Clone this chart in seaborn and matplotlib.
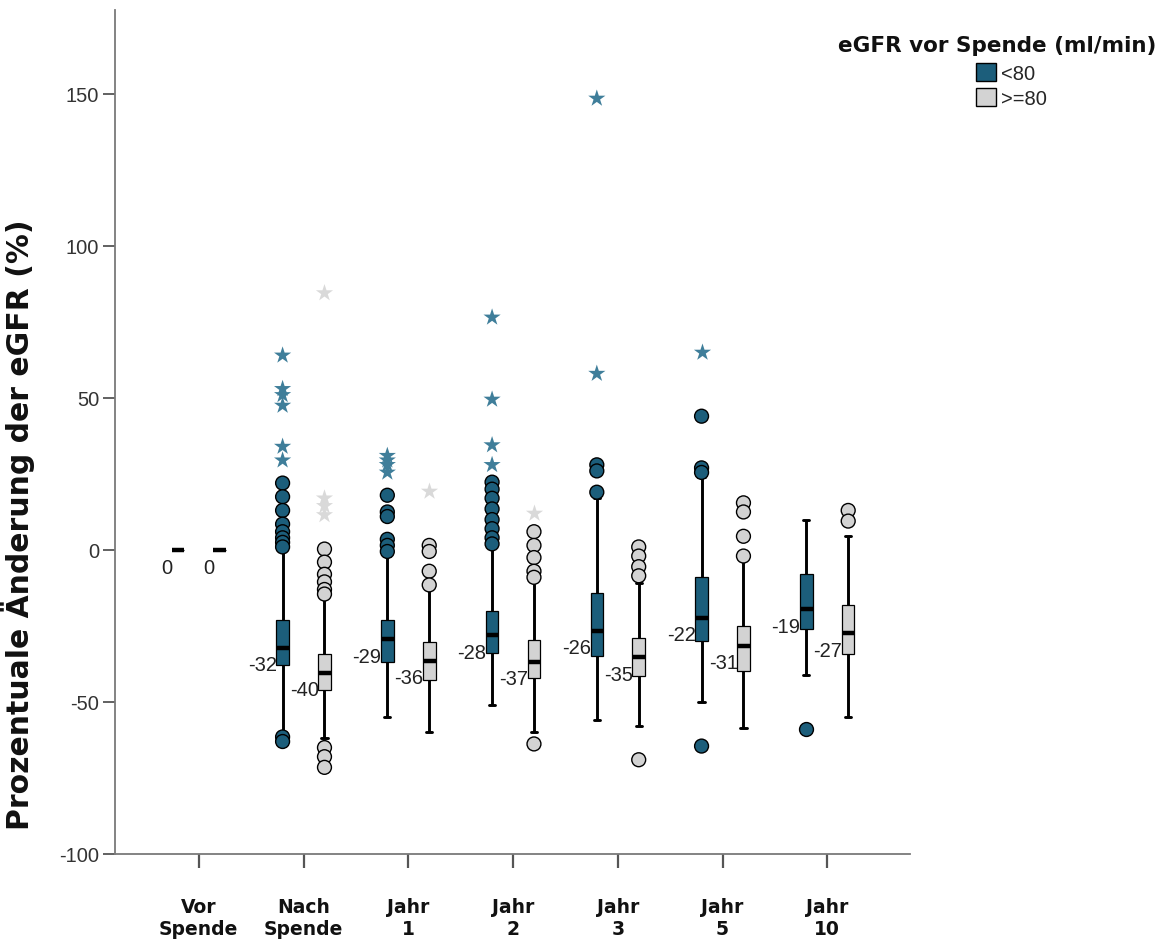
import numpy as np
import pandas as pd
import matplotlib
matplotlib.use("Agg")
import matplotlib.pyplot as plt
from matplotlib.patches import Patch
import seaborn as sns

# ---------------- data ----------------
categories = ["Vor\nSpende", "Nach\nSpende", "Jahr\n1", "Jahr\n2", "Jahr\n3", "Jahr\n5", "Jahr\n10"]
groups = ["<80", ">=80"]

# eGFR < 80 : five-number summaries
lt80_whislo = [0, -60, -55, -51, -56, -50, -41]
lt80_q1     = [0, -38, -37, -34, -35, -30, -26]
lt80_median = [0, -32.2, -29.3, -28.0, -26.5, -22.3, -19.4]
lt80_q3     = [0, -23, -23, -20, -14, -9, -8]
lt80_whishi = [0, 0, -2, 1, 17, 24, 10]

# eGFR >= 80 : five-number summaries
ge80_whislo = [0, -62, -60, -60, -58, -58.6, -55]
ge80_q1     = [0, -46, -42.7, -42.2, -41.6, -39.7, -34.2]
ge80_median = [0, -40.4, -36.4, -36.8, -35.3, -31.5, -27.3]
ge80_q3     = [0, -34.2, -30.4, -29.5, -29.1, -25, -18]
ge80_whishi = [0, -15, -13, -10, -11, -3, 4.5]

# outliers (circles) and extreme values (stars)
lt80_circles = [[], [22, 17.5, 13, 8.5, 6, 4, 2.5, 1, -61.5, -63],
                [18, 12.5, 11, 3.5, 1.5, -0.5],
                [22.3, 20, 17, 13.5, 10, 7, 4, 2],
                [28, 26, 19], [44, 27, 25.5, -64.5], [-59]]
lt80_stars = [[], [64, 53, 51, 47.5, 34, 29.5], [31, 29.5, 28, 25.5],
              [76.5, 49.5, 34.5, 28], [148.5, 58], [65], []]
ge80_circles = [[], [0.3, -4, -8, -10.5, -13, -14.5, -65, -68, -71.5],
                [1.5, -0.5, -7, -11.5],
                [6, 1.5, -2.5, -7, -9, -63.8],
                [1, -2, -5.5, -8.5, -69], [15.5, 12.5, 4.5, -2], [13, 9.5]]
ge80_stars = [[], [84.5, 17, 14.5, 11.5], [19.5], [12], [], [], []]

# median labels as printed
lt80_labels = ["0", "-32", "-29", "-28", "-26", "-22", "-19"]
ge80_labels = ["0", "-40", "-36", "-37", "-35", "-31", "-27"]

y_ticks = [-100, -50, 0, 50, 100, 150]

# ---------------- tables ----------------
summ = {"<80": (lt80_whislo, lt80_q1, lt80_median, lt80_q3, lt80_whishi),
        ">=80": (ge80_whislo, ge80_q1, ge80_median, ge80_q3, ge80_whishi)}
rows = []
for g, arrs in summ.items():
    for i, c in enumerate(categories):
        for a in arrs:
            rows.append({"cat": c, "grp": g, "val": a[i]})
box_df = pd.DataFrame(rows)


def long_points(d):
    r = []
    for g, lists in d.items():
        for i, c in enumerate(categories):
            for v in lists[i]:
                r.append({"cat": c, "grp": g, "val": v})
    return pd.DataFrame(r)


circ_df = long_points({"<80": lt80_circles, ">=80": ge80_circles})
star_df = long_points({"<80": lt80_stars, ">=80": ge80_stars})

box_colors = {"<80": "#1c5e7b", ">=80": "#d3d3d3"}
star_colors = {"<80": "#3f7e9a", ">=80": "#d9d9d9"}

# ---------------- figure ----------------
sns.set_style("ticks")
plt.rcParams["font.family"] = ["DejaVu Sans"]

fig = plt.figure(figsize=(11.75, 9.45), dpi=100)
ax = fig.add_axes([115 / 1175, 90 / 945, 795 / 1175, 844 / 945])

GAP = 0.7
sns.boxplot(data=box_df, x="cat", y="val", hue="grp", order=categories,
            hue_order=groups, palette=box_colors, saturation=1, whis=(0, 100),
            width=0.8, gap=GAP, linecolor="black", linewidth=1, fliersize=0,
            legend=False, ax=ax,
            medianprops={"linewidth": 3.2, "color": "black", "solid_capstyle": "butt"},
            whiskerprops={"linewidth": 2.1},
            capprops={"linewidth": 2.1},
            boxprops={"linewidth": 0.9})

sns.stripplot(data=circ_df, x="cat", y="val", hue="grp", order=categories,
              hue_order=groups, palette=box_colors, dodge=True, jitter=False,
              size=10, linewidth=1, edgecolor="black", legend=False, ax=ax,
              zorder=5)
sns.stripplot(data=star_df, x="cat", y="val", hue="grp", order=categories,
              hue_order=groups, palette=star_colors, dodge=True, jitter=False,
              size=13, marker="*", linewidth=0, legend=False, ax=ax, zorder=5)

# median labels
half = 0.4 * (1 - GAP) / 2
for gi, (labels, meds) in enumerate([(lt80_labels, lt80_median), (ge80_labels, ge80_median)]):
    off = (gi - 0.5) * 0.4
    for i, (lab, m) in enumerate(zip(labels, meds)):
        ax.text(i + off - half + 0.005, m - 2.5, lab, ha="right", va="top",
                fontsize=14.5, family="Liberation Sans", color="#222222", zorder=6)

ax.set_xlim(-0.80, 6.79)
ax.set_ylim(-100, 177.6)
ax.set_yticks(y_ticks)
ax.set_yticklabels([str(t) for t in y_ticks], family="Liberation Sans",
                   fontsize=14.5, color="#333333")
ax.set_xticks(range(len(categories)))
ax.set_xticklabels(categories, fontweight="bold", fontsize=13.5,
                   linespacing=1.2, color="#111111")
ax.tick_params(axis="y", length=8.5, width=1.3, color="#555555", pad=3)
ax.tick_params(axis="x", length=10, width=1.6, color="#555555", pad=21)
ax.set_xlabel("")
ax.set_ylabel("Prozentuale Änderung der eGFR (%)", fontweight="bold",
              fontsize=21.5, color="#111111")
ax.yaxis.set_label_coords(-0.100, 0.391)
for s in ["top", "right"]:
    ax.spines[s].set_visible(False)
for s in ["left", "bottom"]:
    ax.spines[s].set_color("#7a7a7a")
    ax.spines[s].set_linewidth(1.3)

# legend
fig.text(838 / 1175, 1 - 46 / 945, "eGFR vor Spende (ml/min)", fontweight="bold",
         fontsize=15.5, va="center", ha="left", color="#111111")
handles = [Patch(facecolor=box_colors[g], edgecolor="black", linewidth=1) for g in groups]
fig.legend(handles, groups, loc="upper left",
           bbox_to_anchor=(976 / 1175, 1 - 64 / 945), frameon=False,
           handlelength=1.0, handleheight=1.0, handletextpad=0.25,
           labelspacing=0.25, borderpad=0, borderaxespad=0,
           prop={"family": "Liberation Sans", "size": 14.5})

fig.savefig("out.png", dpi=100)
